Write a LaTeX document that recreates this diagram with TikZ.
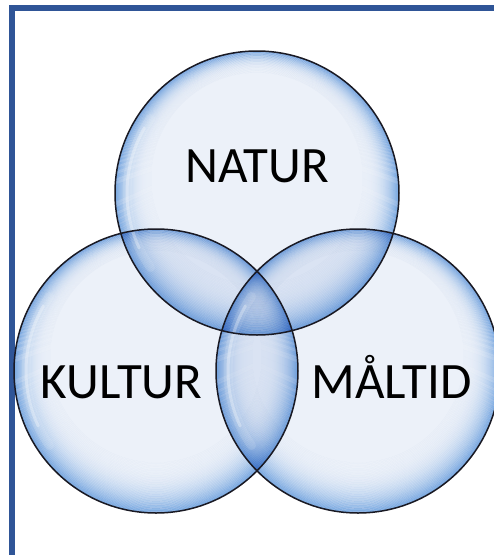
\documentclass[tikz,border=0pt]{standalone}
\usepackage{fontspec}
\setmainfont{Carlito}
\definecolor{framecol}{RGB}{47,85,151}
\definecolor{bubA}{RGB}{236,241,249}
\definecolor{bubE}{RGB}{128,175,228}
\definecolor{rimcol}{RGB}{25,25,35}
\tikzset{
  bubblecirc/.style={circle, minimum size=284pt, inner sep=0pt},
  ringfill/.style={even odd rule, blend mode=multiply},
  rim/.style={draw=rimcol, line width=1.5pt},
  gloss/.style={white, line cap=round},
  label/.style={font=\fontsize{51}{51}\selectfont, anchor=base, inner sep=0pt, text=black},
  framebox/.style={draw=framecol, line width=6pt}
}
\newcommand\mybubble[1]{%
  \foreach \d in {0,...,35}{
    \pgfmathsetmacro\p{100*(1-\d/36)^2.6}
    \pgfmathsetmacro\sa{-0.4*\d}
    \pgfmathsetmacro\sb{-0.4*(\d+1)}
    \fill[ringfill, bubE!\p!bubA] ([shift={(0,\sa)}]#1) circle[radius=142pt-\d pt] ([shift={(0,\sb)}]#1) circle[radius=141pt-\d pt];
  }
  \fill[blend mode=multiply, bubA] ([shift={(0,-14.4)}]#1) circle[radius=106pt];}
\begin{document}
\begin{tikzpicture}[x=1pt, y=-1pt]
\useasboundingbox (0,0) rectangle (494,555);
\clip (0,0) rectangle (494,555);
\fill[white] (0,0) rectangle (494,555);
\node[framebox, minimum width=520pt, minimum height=580pt, anchor=north west, inner sep=0pt] (frame) at (9,5) {};
\node[bubblecirc] (natur) at (257,193) {};
\node[bubblecirc] (kultur) at (156,371) {};
\node[bubblecirc] (maltid) at (358,371) {};
\mybubble{natur.center}
\mybubble{kultur.center}
\mybubble{maltid.center}
\foreach \n in {natur,kultur,maltid}{
  \draw[gloss, line width=9pt, opacity=0.12] ([shift={(145:130pt)}]\n.center) arc[start angle=145, end angle=215, radius=130pt];
  \draw[gloss, line width=3pt, opacity=0.3] ([shift={(150:130pt)}]\n.center) arc[start angle=150, end angle=205, radius=130pt];
}
\draw[rim] (natur.center) circle[radius=142pt];
\draw[rim] (kultur.center) circle[radius=142pt];
\draw[rim] (maltid.center) circle[radius=142pt];
\node[label] (tnatur) at (257,182) {NATUR};
\node[label] (tkultur) at (121.5,398) {KULTUR};
\node[label] (tmaltid) at (391.5,398) {MÅLTID};
\end{tikzpicture}
\end{document}
